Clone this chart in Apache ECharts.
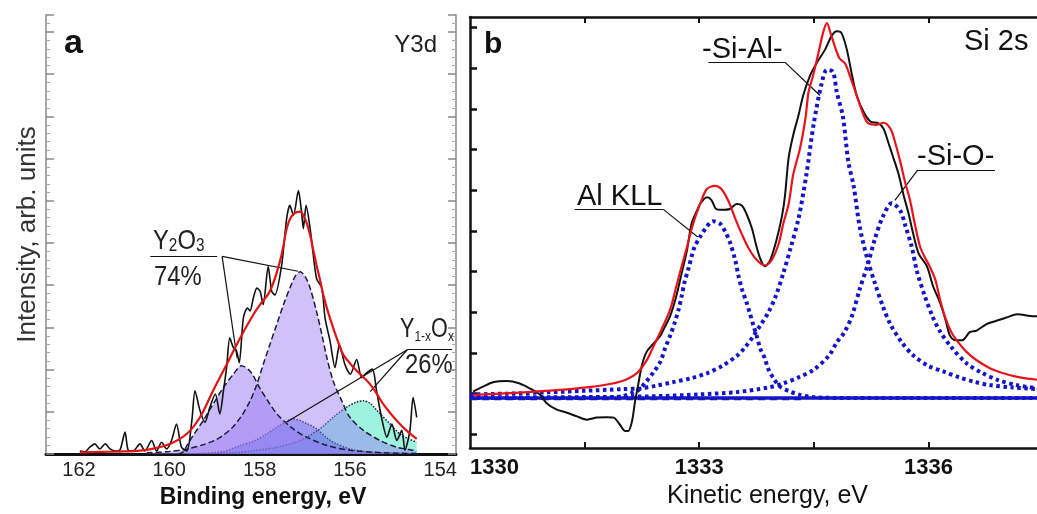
<!DOCTYPE html>
<html><head><meta charset="utf-8">
<script src="https://cdn.jsdelivr.net/npm/echarts@6/dist/echarts.min.js"></script>
<style>html,body{margin:0;padding:0;background:#fff}#c{width:1037px;height:514px}</style>
</head><body><div id="c"></div>
<script>
// ---------- Panel a : Y3d ----------
const aTickLabels = [154, 156, 158, 160, 162];
const aMeasured = [[161.98,0.7],[161.87,0.5],[161.76,1.6],[161.65,2.4],[161.54,1.2],[161.42,2.4],[161.31,1.2],[161.2,0.7],[161.09,1.0],[160.98,5.2],[160.91,0.9],[160.8,0.7],[160.65,2.4],[160.54,0.7],[160.39,3.2],[160.28,0.7],[160.17,2.8],[160.06,1.2],[159.95,3.2],[159.84,7.1],[159.73,1.6],[159.61,0.7],[159.5,7.9],[159.43,15],[159.32,10.3],[159.21,7.5],[159.1,11.1],[158.98,14.2],[158.88,9.5],[158.8,15],[158.73,20.5],[158.66,27.5],[158.58,25.2],[158.51,24.4],[158.45,21.6],[158.36,32.2],[158.27,34.6],[158.21,33.9],[158.14,36.9],[158.06,39.3],[157.99,38.6],[157.92,35.4],[157.81,44.4],[157.73,38.5],[157.66,37.7],[157.51,44.8],[157.4,55.8],[157.33,58.9],[157.25,56.5],[157.14,62.4],[157.07,57.3],[157.03,53.4],[156.97,58.9],[156.88,53.4],[156.74,41.6],[156.62,39.3],[156.55,32.2],[156.44,26.8],[156.33,20.5],[156.23,25.9],[156.11,21.2],[155.99,18.9],[155.85,22.4],[155.74,18.1],[155.63,19.2],[155.5,20.1],[155.41,15],[155.3,8.7],[155.18,4.0],[155.07,7.1],[154.96,3.2],[154.85,5.6],[154.78,0.9],[154.67,5.6],[154.6,13.4],[154.52,8.7]];
const aEnvelope = [[161.98,0.4],[161.5,0.5],[161.0,0.6],[160.65,0.8],[160.3,1.4],[159.98,2.4],[159.61,4.8],[159.32,8.7],[159.03,15.0],[158.73,21.2],[158.43,27.5],[158.14,33.0],[157.99,35.4],[157.77,38.6],[157.55,45.6],[157.47,49.5],[157.4,53.4],[157.3,56.2],[157.18,57.3],[157.1,57.4],[157.03,56.5],[156.95,54.5],[156.88,51.8],[156.81,48.3],[156.74,44.8],[156.66,41.2],[156.59,37.7],[156.48,33.5],[156.37,29.9],[156.26,26.5],[156.15,23.6],[156.0,21.5],[155.85,19.7],[155.7,18.2],[155.55,16.5],[155.4,14.2],[155.26,11.8],[155.1,9.6],[154.96,7.9],[154.75,5.6],[154.52,3.6]];
const aY2O3Main = [[160.5,0.3],[160.0,0.6],[159.6,1.2],[159.25,2.2],[159.0,3.2],[158.8,4.5],[158.6,6.3],[158.4,9.0],[158.21,12.6],[158.06,16.5],[157.92,21.2],[157.77,26.0],[157.62,30.7],[157.47,35.4],[157.33,39.3],[157.2,42.3],[157.1,43.2],[156.99,42.0],[156.88,39.3],[156.74,33.8],[156.62,28.3],[156.51,22.8],[156.37,17.3],[156.18,12.6],[156.0,8.7],[155.7,5.6],[155.33,3.2],[154.96,1.6],[154.6,0.9],[154.52,0.8]];
const aY2O3Second = [[159.8,0.0],[159.69,0.5],[159.61,2.0],[159.47,4.4],[159.25,7.9],[159.03,11.8],[158.8,15.8],[158.58,18.9],[158.4,20.9],[158.2,19.5],[158.0,15.7],[157.8,12.3],[157.6,9.3],[157.3,6.3],[157.0,4.2],[156.5,2.0],[156.0,0.9],[155.3,0.3],[154.52,0.1]];
const aYOxFirst = [[159.6,0.0],[159.2,0.2],[158.8,0.6],[158.43,2.0],[158.1,3.2],[157.84,4.8],[157.55,6.8],[157.25,8.3],[156.95,7.2],[156.74,6.0],[156.55,4.2],[156.37,2.8],[156.0,1.2],[155.6,0.5],[155.0,0.2],[154.52,0.1]];
const aYOxSecond = [[159.0,0.0],[158.6,0.3],[158.2,0.7],[157.62,1.6],[157.1,3.2],[156.66,6.0],[156.37,8.7],[156.07,11.1],[155.85,12.3],[155.7,12.6],[155.55,12.0],[155.41,10.4],[155.11,7.1],[154.9,4.8],[154.7,3.6],[154.52,2.8]];

// ---------- Panel b : Si 2s ----------
const bTickLabels = [1330, 1333, 1336];
const bTickMarks = [1331.5, 1333, 1334.5, 1336];
const bYTickMarks = [3.4, 13.4, 23.4, 33.4, 43.4, 53.4, 63.4, 73.4, 83.4, 93.4, 103.4];
const bMeasured = [[1330.04,13.9],[1330.17,15.1],[1330.3,16.2],[1330.48,16.5],[1330.65,15.9],[1330.79,14.6],[1330.92,13.1],[1331.0,11.1],[1331.13,9.5],[1331.27,8.7],[1331.4,7.8],[1331.53,7.0],[1331.66,7.5],[1331.79,7.6],[1331.88,7.5],[1331.96,5.8],[1332.03,4.2],[1332.07,4.2],[1332.12,6.6],[1332.16,11.5],[1332.2,15.5],[1332.25,20.4],[1332.31,23.6],[1332.4,25.7],[1332.49,27.6],[1332.55,29.8],[1332.62,32.5],[1332.7,37.4],[1332.77,43],[1332.84,48.7],[1332.9,55.2],[1332.97,58.4],[1333.01,60],[1333.1,61.7],[1333.16,61],[1333.22,58.8],[1333.3,58.6],[1333.4,58.8],[1333.49,60],[1333.56,59.6],[1333.62,57.5],[1333.69,54],[1333.75,49.5],[1333.8,46.5],[1333.86,44.7],[1333.93,46.3],[1334.01,51.1],[1334.08,56.8],[1334.12,61.7],[1334.17,71.4],[1334.23,77],[1334.3,81.9],[1334.36,86.7],[1334.45,91.6],[1334.54,94.8],[1334.65,98.1],[1334.73,101.3],[1334.8,102.5],[1334.86,102.1],[1334.93,98.1],[1335.0,91.6],[1335.06,86.7],[1335.15,82.7],[1335.24,80.3],[1335.34,79.9],[1335.41,78.6],[1335.47,75.4],[1335.54,71.4],[1335.61,67.3],[1335.67,62.5],[1335.74,57.6],[1335.8,52.7],[1335.87,47.9],[1335.98,44.7],[1336.06,39.8],[1336.15,35.8],[1336.22,31.7],[1336.28,27.7],[1336.35,26.5],[1336.44,26.5],[1336.54,28.5],[1336.63,28.9],[1336.76,30.5],[1336.89,31.3],[1337.02,32.1],[1337.16,32.9],[1337.33,32.5],[1337.42,32.4]];
const bEnvelope = [[1330.04,13.1],[1330.52,13.5],[1331.18,14.3],[1331.61,15.1],[1331.96,16.3],[1332.18,18.4],[1332.31,21.5],[1332.4,25],[1332.49,28.5],[1332.62,34.1],[1332.7,39.8],[1332.77,44.7],[1332.84,49.5],[1332.92,55.2],[1333.01,60],[1333.1,63.7],[1333.21,64.5],[1333.29,63.7],[1333.38,60.8],[1333.47,56.5],[1333.56,52.5],[1333.65,49],[1333.75,46.3],[1333.86,44.9],[1333.95,46.3],[1334.04,50.3],[1334.1,55.2],[1334.17,60],[1334.23,67.3],[1334.32,73.8],[1334.39,81.1],[1334.43,87.5],[1334.49,91.6],[1334.56,97.2],[1334.62,102.1],[1334.67,104.5],[1334.73,101.3],[1334.83,96],[1334.91,94.5],[1334.97,91.6],[1335.06,86.7],[1335.15,81.9],[1335.21,79.9],[1335.32,79.5],[1335.41,80],[1335.5,78.6],[1335.56,75.4],[1335.63,70.5],[1335.69,65.7],[1335.76,60.8],[1335.82,55.2],[1335.89,49.5],[1335.95,47],[1336.02,44.5],[1336.09,41.4],[1336.15,36.6],[1336.22,32.1],[1336.3,28.5],[1336.39,26],[1336.5,23.6],[1336.63,21.6],[1336.81,19.6],[1336.98,18.4],[1337.16,17.5],[1337.33,17],[1337.42,16.8]];
const bAlKLL = [[1330.0,12.3],[1331.0,12.3],[1331.8,12.4],[1332.0,12.8],[1332.1,13.4],[1332.2,14.2],[1332.3,16.2],[1332.4,18.6],[1332.49,21.2],[1332.55,24.4],[1332.62,27.7],[1332.68,30.9],[1332.73,34.1],[1332.77,37.4],[1332.81,41],[1332.86,44.2],[1332.9,47.1],[1332.94,49.5],[1333.01,51.9],[1333.1,54.5],[1333.18,55.8],[1333.27,55.2],[1333.34,53.2],[1333.4,50.7],[1333.47,46.3],[1333.51,42.6],[1333.56,39],[1333.62,35.8],[1333.66,33.3],[1333.71,30.1],[1333.75,27.7],[1333.8,24.4],[1333.86,22],[1333.9,19.6],[1333.97,17.2],[1334.06,15.1],[1334.19,13.9],[1334.32,13.1],[1334.5,12.5],[1335.0,12.3],[1337.42,12.3]];
const bSiAl = [[1330.0,13.2],[1330.5,13.4],[1331.0,13.7],[1331.5,14.1],[1332.0,14.5],[1332.25,14.7],[1332.45,15.4],[1332.65,16.2],[1332.9,17.2],[1333.1,18.4],[1333.3,20.2],[1333.5,22.8],[1333.6,24.8],[1333.7,27.3],[1333.8,30.2],[1333.9,33.2],[1334.0,37.3],[1334.1,43],[1334.2,49.5],[1334.3,56.5],[1334.4,67],[1334.5,80],[1334.6,89.5],[1334.67,93],[1334.75,92.5],[1334.8,87.5],[1334.88,81.5],[1334.95,70.5],[1335.02,64.5],[1335.1,54.4],[1335.2,46.5],[1335.3,40.5],[1335.4,35],[1335.5,30.5],[1335.65,26],[1335.8,22.8],[1336.0,20.2],[1336.2,18.8],[1336.4,17.4],[1336.6,16.3],[1336.8,15.5],[1337.1,14.9],[1337.42,14.5]];
const bSiO = [[1330.0,12.4],[1331.0,12.5],[1332.0,12.6],[1332.5,12.8],[1333.0,13.2],[1333.5,13.8],[1333.9,14.9],[1334.1,15.9],[1334.3,17.4],[1334.5,19.3],[1334.7,22.8],[1334.8,26],[1334.9,28.5],[1335.0,32.6],[1335.1,39.1],[1335.2,44.8],[1335.3,51.5],[1335.4,56.8],[1335.52,60.2],[1335.63,58.4],[1335.7,54.5],[1335.78,49.5],[1335.85,43.4],[1335.95,37.5],[1336.05,32.5],[1336.15,28.7],[1336.3,24.8],[1336.5,20.8],[1336.7,18.5],[1336.9,16.8],[1337.15,15.5],[1337.42,14.7]];
const bBackground = [[1330.0,12.3],[1337.42,12.3]];
const bBackgroundDashed = [[1330.0,12.0],[1334.4,12.0]];

// ---------- styling / annotation config ----------
const FONT = 'Liberation Sans, Arial, sans-serif';
const leaderStyle = {color:'#111', width:1.2, type:'solid'};
function leaders(segs){
  return {silent:true, symbol:['none','none'], label:{show:false}, emphasis:{disabled:true},
    lineStyle:leaderStyle, animation:false,
    data: segs.map(s => [{coord:s[0]},{coord:s[1]}])};
}
const aLeaders = [
  [[160.42,46.8],[158.94,46.8]],
  [[158.83,46.8],[158.5,22.8]],
  [[158.83,46.8],[157.15,43.3]],
  [[154.73,24.7],[153.74,24.7]],
  [[154.73,24.7],[157.4,7.6]],
  [[154.73,24.7],[155.55,14.8]]
];
const bLeaders = [
  [[1331.37,58.7],[1332.53,58.7]],
  [[1332.53,58.7],[1332.98,51.9]],
  [[1333.12,94.9],[1334.12,94.9]],
  [[1334.12,94.9],[1334.58,86.7]],
  [[1335.86,68.4],[1336.87,68.4]],
  [[1335.86,68.4],[1335.56,60.9]]
];

const chart = echarts.init(document.getElementById('c'), null, {renderer:'canvas'});
const comp = (data, dash, fill, z) => ({type:'line', xAxisIndex:0, yAxisIndex:0, data, symbol:'none', smooth:0.3,
  lineStyle:{color:'#1c1c3c', width:1.5, type:dash}, areaStyle:{color:fill, opacity:1}, z, silent:true});
const bcomp = (data) => ({type:'line', xAxisIndex:2, yAxisIndex:2, data, symbol:'none', smooth:0.3,
  lineStyle:{color:'#1515c8', width:4, type:[3.5,3.5], cap:'butt'}, z:3, silent:true});
const plain = v => String(v);

chart.setOption({
  animation:false,
  backgroundColor:'#fff',
  grid:[{left:46, top:15, width:410, height:442}, {left:470, top:17, width:567, height:437}],
  xAxis:[
    {type:'value', gridIndex:0, inverse:true, min:153.65, max:162.73,
     axisLine:{lineStyle:{color:'#666', width:1.5}}, axisTick:{show:false}, splitLine:{show:false},
     axisLabel:{customValues:aTickLabels, formatter:plain, fontFamily:FONT, fontSize:20, color:'#222', margin:6},
     name:'Binding energy, eV', nameLocation:'middle', nameGap:32,
     nameTextStyle:{fontFamily:FONT, fontSize:23, fontWeight:'bold', color:'#111', padding:[0,0,0,24]}},
    {type:'value', gridIndex:0, position:'top', inverse:true, min:153.65, max:162.73,
     axisLine:{lineStyle:{color:'#111', width:3}}, axisTick:{show:false}, axisLabel:{show:false}, splitLine:{show:false}},
    {type:'value', gridIndex:1, min:1330, max:1337.42,
     axisLine:{lineStyle:{color:'#111', width:2.5}},
     axisTick:{inside:true, customValues:bTickMarks, length:6, lineStyle:{color:'#111', width:2}},
     axisLabel:{customValues:bTickLabels, formatter:plain, alignMinLabel:'left', fontFamily:FONT, fontSize:22, fontWeight:'bold', color:'#111', margin:9},
     splitLine:{show:false},
     name:'Kinetic energy, eV', nameLocation:'middle', nameGap:26,
     nameTextStyle:{fontFamily:FONT, fontSize:25, color:'#111', padding:[0,0,0,28]}},
    {type:'value', gridIndex:1, position:'top', min:1330, max:1337.42,
     axisLine:{lineStyle:{color:'#111', width:2.5}},
     axisTick:{inside:true, customValues:bTickMarks, length:6, lineStyle:{color:'#111', width:2}},
     axisLabel:{show:false}, splitLine:{show:false}}
  ],
  yAxis:[
    {type:'value', gridIndex:0, min:0, max:104, interval:10,
     axisLine:{show:true, lineStyle:{color:'#888', width:1.5}},
     axisTick:{show:true, inside:true, length:8, lineStyle:{color:'#888', width:1.5}},
     minorTick:{show:true, splitNumber:5, length:4, lineStyle:{color:'#aaa', width:1}},
     axisLabel:{show:false}, splitLine:{show:false},
     name:'Intensity, arb. units', nameLocation:'middle', nameGap:5,
     nameTextStyle:{fontFamily:FONT, fontSize:26, color:'#333'}},
    {type:'value', gridIndex:0, position:'right', min:0, max:104, interval:10,
     axisLine:{show:true, lineStyle:{color:'#888', width:1.5}},
     axisTick:{show:true, inside:true, length:8, lineStyle:{color:'#888', width:1.5}},
     minorTick:{show:true, splitNumber:5, length:4, lineStyle:{color:'#aaa', width:1}},
     axisLabel:{show:false}, splitLine:{show:false}},
    {type:'value', gridIndex:1, min:0, max:106,
     axisLine:{show:true, lineStyle:{color:'#111', width:2.5}},
     axisTick:{show:true, inside:true, customValues:bYTickMarks, length:7, lineStyle:{color:'#111', width:2.5}},
     axisLabel:{show:false}, splitLine:{show:false}}
  ],
  series:[
    comp(aYOxSecond, 'dotted', 'rgba(60,232,190,0.5)', 1),
    comp(aYOxFirst, 'dotted', 'rgba(40,90,220,0.45)', 1),
    comp(aY2O3Second, 'dashed', 'rgba(150,120,242,0.5)', 2),
    comp(aY2O3Main, 'dashed', 'rgba(150,120,242,0.45)', 2),
    {type:'line', xAxisIndex:0, yAxisIndex:0, data:aMeasured, symbol:'none', smooth:0.25,
     lineStyle:{color:'#111', width:1.6}, z:4, silent:true},
    {type:'line', xAxisIndex:0, yAxisIndex:0, data:aEnvelope, symbol:'none', smooth:0.4,
     lineStyle:{color:'#e01414', width:2.2}, z:5, silent:true, markLine:leaders(aLeaders)},

    {type:'line', xAxisIndex:2, yAxisIndex:2, data:bBackgroundDashed, symbol:'none',
     lineStyle:{color:'#26266a', width:2, type:[7,5]}, z:2, silent:true},
    {type:'line', xAxisIndex:2, yAxisIndex:2, data:bBackground, symbol:'none',
     lineStyle:{color:'#1515c8', width:3.5}, z:3, silent:true},
    bcomp(bAlKLL), bcomp(bSiAl), bcomp(bSiO),
    {type:'line', xAxisIndex:2, yAxisIndex:2, data:bMeasured, symbol:'none', smooth:0.3,
     lineStyle:{color:'#111', width:2}, z:4, silent:true},
    {type:'line', xAxisIndex:2, yAxisIndex:2, data:bEnvelope, symbol:'none', smooth:0.3,
     lineStyle:{color:'#e8141c', width:2.2}, z:5, silent:true, markLine:leaders(bLeaders)}
  ],
  graphic:[
    {type:'text', x:64, y:44, style:{text:'a', font:'bold 34px '+FONT, fill:'#111', verticalAlign:'middle'}},
    {type:'text', x:437, y:45, style:{text:'Y3d', font:'24px '+FONT, fill:'#222', align:'right', verticalAlign:'middle'}},
    {type:'text', x:484, y:45, style:{text:'b', font:'bold 30px '+FONT, fill:'#111', verticalAlign:'middle'}},
    {type:'text', x:964, y:42, style:{text:'Si 2s', font:'29px '+FONT, fill:'#111', verticalAlign:'middle'}},
    {type:'text', x:702, y:50, style:{text:'-Si-Al-', font:'29px '+FONT, fill:'#111', verticalAlign:'middle'}},
    {type:'text', x:577, y:197, style:{text:'Al KLL', font:'29px '+FONT, fill:'#111', verticalAlign:'middle'}},
    {type:'text', x:917, y:157, style:{text:'-Si-O-', font:'29px '+FONT, fill:'#111', verticalAlign:'middle'}},
    {type:'text', x:153, y:241, scaleX:0.85, style:{text:'{n|Y}{s|2}{n|O}{s|3}', fill:'#222', verticalAlign:'middle',
      rich:{n:{fontFamily:FONT, fontSize:28, lineHeight:28, color:'#222'}, s:{fontFamily:FONT, fontSize:18, lineHeight:11, verticalAlign:'bottom', color:'#222'}}}},
    {type:'text', x:154, y:277, scaleX:0.85, style:{text:'74%', font:'28px '+FONT, fill:'#222', verticalAlign:'middle'}},
    {type:'text', x:400, y:330, scaleX:0.8, style:{text:'{n|Y}{s|1-x}{n|O}{s|x}', fill:'#222', verticalAlign:'middle',
      rich:{n:{fontFamily:FONT, fontSize:27, lineHeight:28, color:'#222'}, s:{fontFamily:FONT, fontSize:15, lineHeight:10, verticalAlign:'bottom', color:'#222'}}}},
    {type:'text', x:405, y:365, scaleX:0.85, style:{text:'26%', font:'28px '+FONT, fill:'#222', verticalAlign:'middle'}}
  ]
});
</script>
</body></html>
